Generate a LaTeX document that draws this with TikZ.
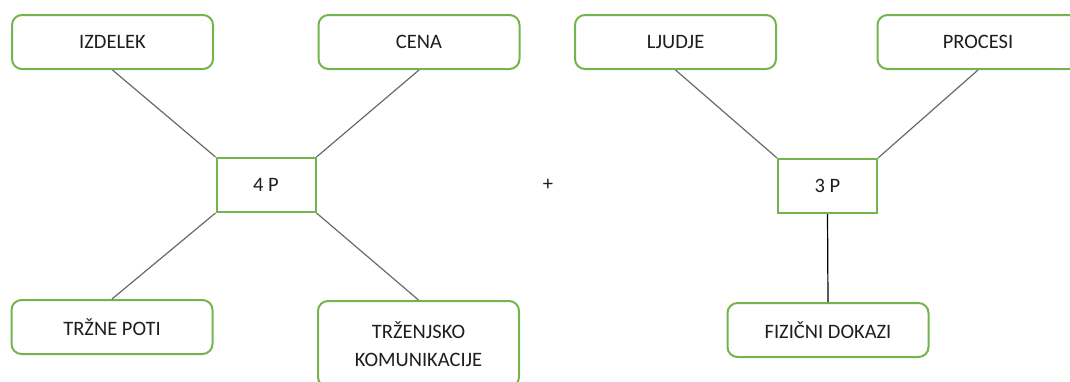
\documentclass[tikz,border=0pt]{standalone}
\usepackage{fontspec}
\setmainfont{Carlito}
\usetikzlibrary{positioning}
\definecolor{pgreen}{RGB}{116,180,76}
\definecolor{pgrey}{RGB}{105,105,105}
\definecolor{ptext}{RGB}{30,30,30}

\begin{document}
\begin{tikzpicture}[x=1pt,y=-1pt,font=\fontsize{20.5}{28}\selectfont,text=ptext]
          \tikzstyle{item}=[draw=pgreen,line width=2pt,rounded corners=10pt,fill=white,
                            minimum width=201pt,minimum height=54pt,align=center]
          \tikzstyle{hub}=[draw=pgreen,line width=2pt,fill=white,
                           minimum width=99pt,minimum height=54pt]
          \clip (0,0) rectangle (1070,381);

          \node[hub]  (p4)   at (266,185)   {4 P};
          \node[item] (izd)  at (112.5,42)  {IZDELEK};
          \node[item] (cena) at (419,42)    {CENA};
          \node[item] (trz)  at (112,327)   {TRŽNE POTI};
          \node[item,minimum height=86pt] (kom) at (418.5,344) {TRŽENJSKO\\KOMUNIKACIJE};

          \node       (plus) at (548,185)   {+};

          \node[hub]  (p3)   at (827.5,186) {3 P};
          \node[item] (ljud) at (675.5,42)  {LJUDJE};
          \node[item] (proc) at (978,42)    {PROCESI};
          \node[item] (fiz)  at (828,330)   {FIZIČNI DOKAZI};

          \path[draw=pgrey,line width=1.2pt]
          (izd.south)  edge (p4.north west)
          (cena.south) edge (p4.north east)
          (trz.north)  edge (p4.south west)
          (kom.north)  edge (p4.south east)
          (ljud.south) edge (p3.north west)
          (proc.south) edge (p3.north east);
          \draw[black,line width=1.2pt] (p3.south) -- (fiz.north);
        \end{tikzpicture}
\end{document}
